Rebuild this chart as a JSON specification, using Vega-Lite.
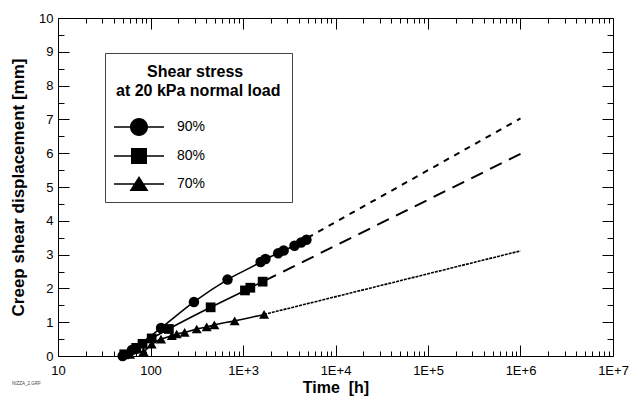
{
  "$schema": "https://vega.github.io/schema/vega-lite/v6.json",
  "width": 555,
  "height": 338,
  "autosize": "none",
  "padding": {"left": 58, "top": 18, "right": 16, "bottom": 41},
  "background": "white",
  "title": {"text": "NIZZA_2.GRF", "orient": "bottom", "anchor": "start", "frame": "group", "fontSize": 4.5, "font": "Liberation Sans", "fontWeight": "normal", "color": "#444", "dx": -46, "offset": -14},
  "config": {
    "view": {"stroke": "black", "strokeWidth": 1},
    "font": "Liberation Sans",
    "axis": {
      "grid": false,
      "domain": false,
      "labelFont": "Liberation Sans",
      "labelFontSize": 13,
      "labelColor": "black",
      "labelFlush": false,
      "labelOverlap": false,
      "titleFont": "Liberation Sans",
      "titleFontWeight": "bold",
      "titleColor": "black",
      "tickColor": "black",
      "tickWidth": 1
    }
  },
  "datasets": {
    "pts": [
      {"series": "90%", "t": 50, "d": 0.0},
      {"series": "90%", "t": 63, "d": 0.18},
      {"series": "90%", "t": 130, "d": 0.83},
      {"series": "90%", "t": 295, "d": 1.6},
      {"series": "90%", "t": 680, "d": 2.26},
      {"series": "90%", "t": 1550, "d": 2.78},
      {"series": "90%", "t": 1750, "d": 2.87},
      {"series": "90%", "t": 2400, "d": 3.04},
      {"series": "90%", "t": 2750, "d": 3.12},
      {"series": "90%", "t": 3600, "d": 3.26},
      {"series": "90%", "t": 4250, "d": 3.36},
      {"series": "90%", "t": 4850, "d": 3.44},
      {"series": "80%", "t": 52, "d": 0.05},
      {"series": "80%", "t": 70, "d": 0.24},
      {"series": "80%", "t": 82, "d": 0.36},
      {"series": "80%", "t": 103, "d": 0.52},
      {"series": "80%", "t": 158, "d": 0.8},
      {"series": "80%", "t": 447, "d": 1.44},
      {"series": "80%", "t": 1050, "d": 1.94},
      {"series": "80%", "t": 1200, "d": 2.02},
      {"series": "80%", "t": 1630, "d": 2.2},
      {"series": "70%", "t": 60, "d": 0.05},
      {"series": "70%", "t": 84, "d": 0.13},
      {"series": "70%", "t": 103, "d": 0.35},
      {"series": "70%", "t": 130, "d": 0.5},
      {"series": "70%", "t": 170, "d": 0.6},
      {"series": "70%", "t": 192, "d": 0.65},
      {"series": "70%", "t": 234, "d": 0.7},
      {"series": "70%", "t": 316, "d": 0.8},
      {"series": "70%", "t": 405, "d": 0.86},
      {"series": "70%", "t": 490, "d": 0.92},
      {"series": "70%", "t": 812, "d": 1.04},
      {"series": "70%", "t": 1690, "d": 1.23}
    ],
    "ext": [
      {"series": "90%", "t": 5000, "d": 3.5},
      {"series": "90%", "t": 1000000, "d": 7.03},
      {"series": "80%", "t": 1700, "d": 2.22},
      {"series": "80%", "t": 1000000, "d": 5.98},
      {"series": "70%", "t": 1690, "d": 1.23},
      {"series": "70%", "t": 1000000, "d": 3.11}
    ]
  },
  "layer": [
    {
      "data": {"name": "pts"},
      "mark": {"type": "line", "color": "black", "strokeWidth": 1.6, "interpolate": "monotone"},
      "encoding": {
        "x": {"field": "t", "type": "quantitative", "scale": {"type": "log", "domain": [10, 10000000], "nice": false},
          "axis": {"orient": "bottom", "values": [10, 100, 1000, 10000, 100000, 1000000, 10000000], "ticks": false, "labelPadding": 8,
            "labelExpr": "datum.value < 1000 ? format(datum.value, 'd') : '1E+' + format(round(log(datum.value) / LN10), 'd')",
            "title": "Time\u00a0\u00a0[h]", "titleFontSize": 16, "titlePadding": 2}},
        "y": {"field": "d", "type": "quantitative", "scale": {"domain": [0, 10], "nice": false, "zero": false},
          "axis": {"orient": "left", "values": [0, 1, 2, 3, 4, 5, 6, 7, 8, 9, 10], "ticks": false, "labelPadding": 5,
            "title": "Creep shear displacement [mm]", "titleFontSize": 17, "titlePadding": 11}},
        "detail": {"field": "series", "type": "nominal"}
      }
    },
    {
      "data": {"name": "pts"},
      "transform": [{"filter": "datum.series === '90%'"}],
      "mark": {"type": "point", "shape": "circle", "filled": true, "color": "black", "opacity": 1, "size": 110},
      "encoding": {
        "x": {"field": "t", "type": "quantitative",
          "axis": {"orient": "bottom", "values": [10, 100, 1000, 10000, 100000, 1000000, 10000000], "ticks": true, "tickSize": -11, "labels": false, "title": null}},
        "y": {"field": "d", "type": "quantitative",
          "axis": {"orient": "left", "values": [0, 1, 2, 3, 4, 5, 6, 7, 8, 9, 10], "ticks": true, "tickSize": -11, "labels": false, "title": null}}
      }
    },
    {
      "data": {"name": "pts"},
      "transform": [{"filter": "datum.series === '80%'"}],
      "mark": {"type": "point", "shape": "square", "filled": true, "color": "black", "opacity": 1, "size": 95},
      "encoding": {
        "x": {"field": "t", "type": "quantitative",
          "axis": {"orient": "bottom", "values": [20, 30, 40, 50, 60, 70, 80, 90, 200, 300, 400, 500, 600, 700, 800, 900, 2000, 3000, 4000, 5000, 6000, 7000, 8000, 9000, 20000, 30000, 40000, 50000, 60000, 70000, 80000, 90000, 200000, 300000, 400000, 500000, 600000, 700000, 800000, 900000, 2000000, 3000000, 4000000, 5000000, 6000000, 7000000, 8000000, 9000000],
            "ticks": true, "tickSize": -5, "labels": false, "title": null}},
        "y": {"field": "d", "type": "quantitative",
          "axis": {"orient": "left", "values": [0.5, 1.5, 2.5, 3.5, 4.5, 5.5, 6.5, 7.5, 8.5, 9.5], "ticks": true, "tickSize": -6, "labels": false, "title": null}}
      }
    },
    {
      "data": {"name": "pts"},
      "transform": [{"filter": "datum.series === '70%'"}],
      "mark": {"type": "point", "shape": "triangle-up", "filled": true, "color": "black", "opacity": 1, "size": 100},
      "encoding": {
        "x": {"field": "t", "type": "quantitative",
          "axis": {"orient": "top", "values": [10, 100, 1000, 10000, 100000, 1000000, 10000000], "ticks": true, "tickSize": -11, "labels": false, "title": null}},
        "y": {"field": "d", "type": "quantitative",
          "axis": {"orient": "right", "values": [0, 1, 2, 3, 4, 5, 6, 7, 8, 9, 10], "ticks": true, "tickSize": -11, "labels": false, "title": null}}
      }
    },
    {
      "data": {"name": "ext"},
      "transform": [{"filter": "datum.series === '90%'"}],
      "mark": {"type": "line", "color": "black", "strokeWidth": 2, "strokeDash": [6, 6]},
      "encoding": {
        "x": {"field": "t", "type": "quantitative",
          "axis": {"orient": "top", "values": [20, 30, 40, 50, 60, 70, 80, 90, 200, 300, 400, 500, 600, 700, 800, 900, 2000, 3000, 4000, 5000, 6000, 7000, 8000, 9000, 20000, 30000, 40000, 50000, 60000, 70000, 80000, 90000, 200000, 300000, 400000, 500000, 600000, 700000, 800000, 900000, 2000000, 3000000, 4000000, 5000000, 6000000, 7000000, 8000000, 9000000],
            "ticks": true, "tickSize": -5, "labels": false, "title": null}},
        "y": {"field": "d", "type": "quantitative",
          "axis": {"orient": "right", "values": [0.5, 1.5, 2.5, 3.5, 4.5, 5.5, 6.5, 7.5, 8.5, 9.5], "ticks": true, "tickSize": -6, "labels": false, "title": null}}
      }
    },
    {
      "data": {"name": "ext"},
      "transform": [{"filter": "datum.series === '80%'"}],
      "mark": {"type": "line", "color": "black", "strokeWidth": 2, "strokeDash": [13, 8]},
      "encoding": {
        "x": {"field": "t", "type": "quantitative", "axis": null},
        "y": {"field": "d", "type": "quantitative", "axis": null}
      }
    },
    {
      "data": {"name": "ext"},
      "transform": [{"filter": "datum.series === '70%'"}],
      "mark": {"type": "line", "color": "black", "strokeWidth": 1.6, "strokeDash": [3, 1]},
      "encoding": {
        "x": {"field": "t", "type": "quantitative", "axis": null},
        "y": {"field": "d", "type": "quantitative", "axis": null}
      }
    },
    {
      "data": {"name": "pts"},
      "mark": {"type": "point", "filled": true, "color": "black", "opacity": 0},
      "encoding": {
        "x": {"field": "t", "type": "quantitative", "axis": null},
        "y": {"field": "d", "type": "quantitative", "axis": null},
        "shape": {"field": "series", "type": "nominal",
          "scale": {"domain": ["90%", "80%", "70%"], "range": [
            "M-2.5,-0.075H2.5V0.075H-2.5ZM-0.9,0A0.9,0.9,0,1,1,0.9,0A0.9,0.9,0,1,1,-0.9,0Z",
            "M-2.5,-0.075H2.5V0.075H-2.5ZM-0.8,-0.8H0.8V0.8H-0.8Z",
            "M-2.5,-0.075H2.5V0.075H-2.5ZM0,-0.8L0.95,0.7L-0.95,0.7Z"]},
          "legend": {
            "orient": "none", "legendX": 47, "legendY": 35,
            "title": ["\u200b\u00a0\u00a0\u00a0\u00a0\u00a0\u00a0\u00a0Shear stress", "at 20 kPa normal load"],
            "titleFont": "Liberation Sans", "titleFontSize": 16, "titleFontWeight": "bold", "titleColor": "black",
            "titleAnchor": "start", "titleAlign": "left", "titleLineHeight": 19, "titlePadding": 18,
            "padding": 11, "strokeColor": "#444", "fillColor": "white",
            "symbolSize": 400, "symbolOffset": 13, "labelOffset": 28,
            "symbolOpacity": 1,
            "labelFont": "Liberation Sans", "labelFontSize": 14, "labelColor": "black",
            "rowPadding": 10,
            "symbolFillColor": "black", "symbolStrokeColor": "black", "symbolStrokeWidth": 0
          }}
      }
    }
  ],
  "resolve": {"axis": {"x": "independent", "y": "independent"}}
}
